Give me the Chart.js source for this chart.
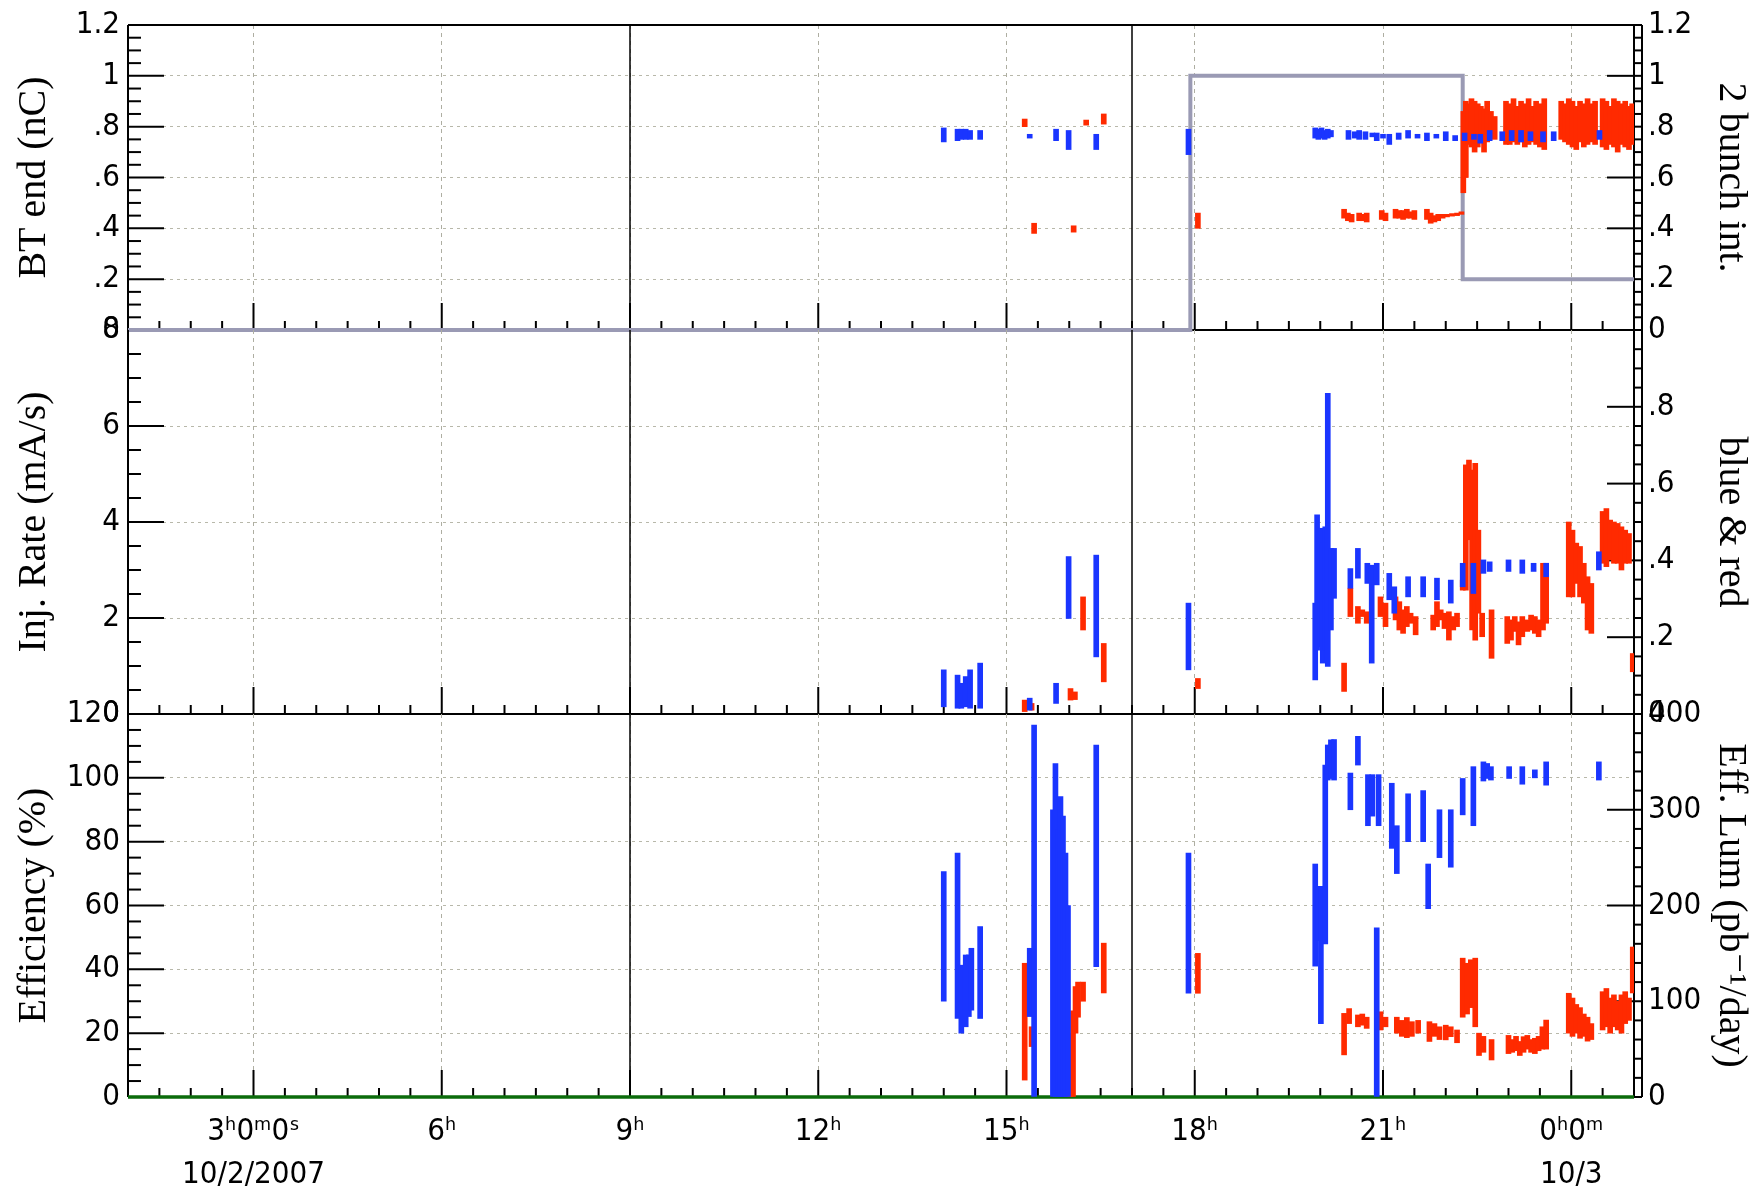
<!DOCTYPE html>
<html>
<head>
<meta charset="utf-8">
<title>Injection summary 10/2/2007</title>
<script src="https://cdn.jsdelivr.net/npm/chart.js@4.4.1/dist/chart.umd.min.js"></script>
<style>
  html, body { margin: 0; padding: 0; background: #fff; overflow: hidden; }
  #wrap { position: relative; width: 1762px; height: 1192px; }
  #wrap canvas { position: absolute; left: 0; top: 0; }
</style>
</head>
<body>
<div id="wrap">
  <canvas id="bunchChart" width="1762" height="1192"></canvas>
  <canvas id="rateChart" width="1762" height="1192"></canvas>
  <canvas id="effChart" width="1762" height="1192"></canvas>
</div>
<script>
// time is in hours since 10/2/2007 00:00
const hourTicks = [3, 6, 9, 12, 15, 18, 21, 24];
const hourTickLabels = [['3ʰ0ᵐ0ˢ', '10/2/2007'], '6ʰ', '9ʰ', '12ʰ', '15ʰ', '18ʰ', '21ʰ', ['0ʰ0ᵐ', '10/3']];
const shiftTimes = [9, 17];

const bunchTicks = [0, 0.2, 0.4, 0.6, 0.8, 1, 1.2];
const bunchTickLabels = ['0', '.2', '.4', '.6', '.8', '1', '1.2'];
const rateTicks = [0, 2, 4, 6, 8];
const rateTickLabels = ['0', '2', '4', '6', '8'];
const rateRightTicks = [0, 0.2, 0.4, 0.6, 0.8];
const rateRightLabels = ['0', '.2', '.4', '.6', '.8'];
const effTicks = [0, 20, 40, 60, 80, 100, 120];
const effTickLabels = ['0', '20', '40', '60', '80', '100', '120'];
const lumTicks = [0, 100, 200, 300, 400];
const lumTickLabels = ['0', '100', '200', '300', '400'];

// [time, low, high] segments
const bunchBlue = [
  [14.00,0.740,0.795],[14.22,0.745,0.790],[14.28,0.750,0.790],[14.35,0.750,0.790],[14.42,0.750,0.785],[14.58,0.750,0.785],
  [15.37,0.755,0.770],[15.79,0.745,0.790],[15.99,0.710,0.785],[16.43,0.710,0.770],[17.90,0.690,0.790],
  [19.92,0.755,0.795],[19.97,0.750,0.790],[20.02,0.755,0.795],[20.07,0.750,0.785],[20.12,0.755,0.790],[20.17,0.760,0.785],
  [20.45,0.750,0.785],[20.55,0.755,0.780],[20.62,0.750,0.785],[20.72,0.750,0.780],[20.83,0.760,0.775],[20.90,0.745,0.775],
  [21.00,0.755,0.770],[21.10,0.730,0.770],[21.25,0.750,0.775],[21.40,0.755,0.785],[21.55,0.755,0.770],[21.70,0.745,0.775],
  [21.85,0.755,0.770],[22.00,0.745,0.780],[22.15,0.745,0.765],[22.30,0.745,0.775],[22.45,0.750,0.770],[22.55,0.735,0.770],
  [22.70,0.745,0.785],[22.90,0.745,0.780],[23.05,0.745,0.785],[23.20,0.740,0.785],[23.35,0.745,0.780],[23.55,0.740,0.780],
  [23.72,0.745,0.780],[24.45,0.750,0.785]
];
const bunchRed = [
  [15.29,0.800,0.830],[15.44,0.380,0.420],[16.07,0.385,0.410],[16.27,0.806,0.826],[16.55,0.810,0.850],[18.05,0.400,0.460],
  [20.38,0.440,0.475],[20.44,0.430,0.460],[20.50,0.425,0.455],[20.62,0.430,0.460],[20.68,0.430,0.455],[20.74,0.425,0.460],
  [20.98,0.435,0.470],[21.04,0.430,0.460],[21.20,0.440,0.475],[21.26,0.440,0.470],[21.32,0.435,0.470],[21.38,0.440,0.475],
  [21.44,0.440,0.465],[21.50,0.435,0.470],[21.70,0.435,0.475],[21.76,0.420,0.460],[21.82,0.425,0.450],[21.88,0.430,0.455],
  [21.95,0.440,0.455],[22.02,0.445,0.455],[22.10,0.448,0.458],[22.18,0.450,0.460],[22.25,0.455,0.465],
  [22.28,0.540,0.860],[22.32,0.600,0.900],[22.36,0.730,0.890],[22.41,0.720,0.910],[22.46,0.700,0.900],[22.51,0.720,0.890],
  [22.56,0.740,0.880],[22.61,0.700,0.870],[22.66,0.740,0.900],[22.72,0.760,0.860],[22.78,0.750,0.840],
  [22.96,0.730,0.900],[23.02,0.730,0.890],[23.08,0.740,0.910],[23.14,0.730,0.880],[23.20,0.740,0.900],[23.26,0.720,0.890],
  [23.32,0.730,0.910],[23.38,0.740,0.880],[23.44,0.730,0.900],[23.50,0.720,0.890],[23.57,0.710,0.910],
  [23.84,0.750,0.900],[23.90,0.740,0.890],[23.96,0.730,0.910],[24.02,0.720,0.900],[24.08,0.710,0.880],[24.14,0.740,0.900],
  [24.20,0.720,0.890],[24.26,0.730,0.910],[24.32,0.740,0.890],[24.38,0.730,0.900],[24.50,0.720,0.910],[24.56,0.710,0.900],
  [24.62,0.730,0.880],[24.68,0.720,0.910],[24.74,0.700,0.900],[24.80,0.730,0.890],[24.86,0.720,0.900],[24.92,0.710,0.880],
  [24.97,0.730,0.890]
];
const bunchStepT = [1, 17.93, 22.27, 25];
const bunchStepV = [0, 1, 0.2, 0.2];

const rateBlue = [
  [14.00,0.15,0.92],[14.22,0.12,0.81],[14.28,0.12,0.64],[14.35,0.15,0.78],[14.42,0.12,0.92],[14.58,0.12,1.06],
  [15.37,0.08,0.33],[15.79,0.22,0.64],[15.99,1.99,3.28],[16.43,1.19,3.31],[17.90,0.92,2.31],
  [19.92,0.71,2.31],[19.95,1.33,4.15],[20.00,1.40,3.87],[20.04,1.06,3.56],[20.08,1.33,3.90],[20.12,0.99,6.68],
  [20.17,1.75,3.45],[20.22,2.41,3.45],[20.48,2.62,3.03],[20.60,2.83,3.45],[20.75,2.72,3.14],[20.82,1.06,3.10],
  [20.90,2.69,3.14],[21.10,2.38,2.93],[21.18,2.10,2.65],[21.40,2.44,2.86],[21.64,2.44,2.86],[21.86,2.38,2.83],
  [22.08,2.31,2.79],[22.27,2.65,3.14],[22.44,2.51,3.14],[22.60,2.93,3.21],[22.70,2.97,3.17],[23.00,2.97,3.21],
  [23.22,2.93,3.21],[23.40,2.97,3.14],[23.60,2.86,3.14],[24.44,3.00,3.38]
];
const rateRed = [
  [15.29,0.05,0.29],[15.40,0.08,0.22],[16.02,0.29,0.53],[16.09,0.30,0.46],[16.22,1.75,2.44],[16.55,0.67,1.47],
  [18.05,0.53,0.74],[20.38,0.47,1.06],[20.48,2.03,2.62],[20.60,1.89,2.24],[20.67,2.03,2.17],[20.74,1.89,2.13],
  [20.96,2.03,2.44],[21.04,1.82,2.31],[21.20,1.96,2.44],[21.26,1.75,2.34],[21.32,1.68,2.17],[21.38,1.82,2.24],
  [21.44,1.89,2.10],[21.52,1.65,2.03],[21.80,1.75,2.06],[21.86,1.82,2.34],[21.92,1.96,2.17],[21.98,1.78,2.10],
  [22.05,1.54,2.13],[22.12,1.75,2.03],[22.18,1.82,2.10],[22.27,2.58,2.79],[22.32,2.58,5.19],[22.37,3.63,5.29],
  [22.42,1.75,5.08],[22.47,1.54,5.22],[22.52,2.10,3.83],[22.58,1.61,2.10],[22.73,1.16,2.17],[22.98,1.47,2.03],
  [23.04,1.54,1.96],[23.10,1.72,2.03],[23.16,1.44,1.92],[23.22,1.61,2.03],[23.30,1.72,1.96],[23.36,1.75,2.06],
  [23.42,1.68,2.03],[23.48,1.61,1.96],[23.55,1.75,3.14],[23.60,1.89,3.14],[23.96,2.44,4.00],[24.02,2.44,3.83],
  [24.08,2.72,3.56],[24.14,2.44,3.49],[24.20,2.31,3.14],[24.26,1.75,2.86],[24.32,1.68,2.72],[24.50,3.14,4.22],
  [24.56,3.07,4.28],[24.62,3.21,4.04],[24.68,3.14,4.00],[24.74,3.14,3.97],[24.80,3.00,3.90],[24.86,3.14,3.83],
  [24.92,3.14,3.76],[24.98,0.88,1.26]
];

const effBlue = [
  [14.00,30.0,70.6],[14.22,24.6,76.4],[14.28,20.0,41.3],[14.35,22.0,44.5],[14.40,25.2,44.5],[14.44,27.2,46.6],
  [14.58,24.6,53.4],[15.37,25.2,46.6],[15.44,0.0,116.5],[15.74,0.0,90.0],[15.78,0.0,104.5],[15.82,0.0,83.7],
  [15.86,0.0,94.1],[15.90,0.0,88.0],[15.94,0.0,76.4],[15.98,0.0,60.0],[16.43,40.8,110.3],[17.90,32.5,76.4],
  [19.92,41.0,73.0],[19.97,49.0,66.0],
  [20.01,23.0,66.0],[20.08,48.0,104.0],[20.12,99.3,110.3],[20.17,99.8,111.9],[20.22,99.3,112.0],[20.48,90.0,101.5],
  [20.60,104.0,113.0],[20.76,85.0,101.0],[20.83,88.0,101.0],[20.90,0.0,53.0],[20.93,85.0,101.0],[21.14,77.9,98.3],
  [21.22,70.0,85.0],[21.40,80.0,95.0],[21.64,80.0,96.0],[21.72,59.0,73.0],[21.90,75.0,90.0],[22.08,72.0,90.0],
  [22.27,88.4,99.8],[22.44,85.0,103.5],[22.60,99.0,105.0],[22.66,99.8,104.5],[22.72,99.3,103.5],[23.01,99.8,103.5],
  [23.22,98.0,103.5],[23.42,100.0,102.5],[23.60,97.7,105.0],[24.44,99.3,105.0]
];
const effRed = [
  [15.29,5.3,41.9],[15.40,15.8,22.0],[15.96,0.0,22.0],[16.02,0.0,20.0],[16.06,0.0,27.0],[16.10,20.0,34.6],
  [16.14,25.0,36.0],[16.22,30.0,36.0],[16.55,32.6,48.2],[18.05,32.5,45.0],[20.38,13.2,26.2],[20.46,23.0,27.7],
  [20.60,22.0,25.7],[20.67,22.5,26.0],[20.74,21.5,25.0],[20.96,21.0,26.7],[21.04,22.0,25.0],[21.22,20.0,25.0],
  [21.30,19.0,24.0],[21.38,18.6,24.9],[21.46,19.0,23.6],[21.56,20.0,24.0],[21.74,17.4,23.6],[21.82,19.0,23.0],
  [21.90,18.0,22.0],[22.00,17.9,22.5],[22.08,18.9,22.0],[22.18,17.0,21.0],[22.27,25.0,43.5],[22.34,26.0,41.9],
  [22.40,28.0,43.0],[22.47,22.0,43.5],[22.53,13.0,20.0],[22.60,14.0,19.0],[22.73,11.6,18.0],[23.00,13.6,19.3],
  [23.06,14.0,18.0],[23.12,14.5,19.0],[23.18,13.0,17.4],[23.24,14.0,18.9],[23.30,15.0,19.3],[23.36,14.0,18.0],
  [23.42,13.6,18.4],[23.48,14.5,19.0],[23.54,15.0,22.0],[23.60,15.0,24.1],[23.96,20.0,32.5],[24.02,19.0,31.0],
  [24.08,20.0,29.0],[24.14,18.4,28.0],[24.20,19.0,26.0],[24.26,17.5,25.0],[24.32,18.0,23.0],[24.50,21.0,33.0],
  [24.56,22.0,34.0],[24.62,20.0,31.0],[24.68,22.0,32.0],[24.74,21.0,30.0],[24.80,20.0,32.0],[24.86,23.0,33.0],
  [24.92,24.0,31.0],[24.98,32.6,47.0]
];
const effZeroT = [1, 25];
const effZeroV = [0, 0];

const BLUE = '#1a35ff';
const RED = '#ff2a00';
const TICK_FONT = {family: '"Liberation Sans Narrow", "DejaVu Sans Condensed", "Liberation Sans", sans-serif', size: 31, lineHeight: 1.38};
const TITLE_FONT = {family: '"Liberation Serif", "DejaVu Serif", serif', size: 40, lineHeight: 1.2};

function segments(rows, color, axis) {
  return {
    type: 'bar',
    data: rows.map(r => ({x: r[0], y: [r[1], r[2]]})),
    backgroundColor: color,
    borderWidth: 0,
    barThickness: 5,
    grouped: false,
    yAxisID: axis
  };
}

function series(ts, vs, color, width, axis, stepped) {
  return {
    type: 'line',
    data: ts.map((t, i) => ({x: t, y: vs[i]})),
    borderColor: color,
    borderWidth: width,
    pointRadius: 0,
    stepped: stepped,
    tension: 0,
    clip: false,
    yAxisID: axis
  };
}

// ROOT style frame: inward ticks, ladder on the right axis, shift-change lines
const rootFrame = {
  id: 'rootFrame',
  beforeDatasetsDraw(chart, args, opts) {
    const {ctx, chartArea: a} = chart;
    const sx = chart.scales.x, yl = chart.scales.y, yr = chart.scales.y2;
    const seg = (x1, y1, x2, y2) => { ctx.beginPath(); ctx.moveTo(x1, y1); ctx.lineTo(x2, y2); ctx.stroke(); };
    const isMajor = (scale, v) => scale.ticks.some(t => Math.abs(t.value - v) < 1e-6);
    ctx.save();
    ctx.strokeStyle = '#000';
    ctx.lineWidth = 1.5;
    shiftTimes.forEach(t => {
      const p = sx.getPixelForValue(t);
      seg(p, a.top, p, a.bottom);
    });
    ctx.lineWidth = 2;
    const nx = Math.round((sx.max - sx.min) / 0.5);
    for (let i = 1; i < nx; i++) {
      const t = sx.min + i * 0.5;
      const p = sx.getPixelForValue(t);
      seg(p, a.bottom, p, a.bottom - (t % 3 === 0 ? 27 : 9));
    }
    const nl = Math.round((yl.max - yl.min) / opts.leftMinor);
    for (let i = 0; i < nl; i++) {
      const v = yl.min + i * opts.leftMinor;
      const p = yl.getPixelForValue(v);
      seg(a.left, p, a.left + (isMajor(yl, v) ? 36 : 13), p);
    }
    const nr = Math.round((yr.max - yr.min) / opts.rightMinor);
    for (let i = 0; i <= nr; i++) {
      const v = yr.min + i * opts.rightMinor;
      const p = yr.getPixelForValue(v);
      if (p < a.top - 0.5 || p > a.bottom + 0.5) continue;
      seg(a.right, p, a.right + 8, p);
      if (isMajor(yr, v)) seg(a.right - 27, p, a.right, p);
    }
    seg(a.right + 8, a.top, a.right + 8, a.bottom);
    // frame; the top edge of lower panels is the bottom edge of the one above
    seg(a.left, a.top, a.left, a.bottom);
    seg(a.right, a.top, a.right, a.bottom);
    seg(a.left, a.bottom, a.right, a.bottom);
    if (opts.topEdge) seg(a.left, a.top, a.right, a.top);
    ctx.restore();
  }
};

function sideAxis(position, min, max, ticks, labels, title, withGrid) {
  const last = ticks.length - 1;
  return {
    type: 'linear',
    position: position,
    min: min,
    max: max,
    afterBuildTicks: s => { s.ticks = ticks.map(v => ({value: v})); },
    afterFit: s => { s.width = 128; s.paddingTop = 0; s.paddingBottom = 0; },
    grid: {
      display: withGrid, lineWidth: 1, drawTicks: false,
      color: c => (c.index === 0 || c.index === last) ? 'rgba(0,0,0,0)' : '#b8b8aa'
    },
    border: {display: false, dash: [3, 4]},
    ticks: {
      color: '#000', font: TICK_FONT, autoSkip: false,
      padding: position === 'left' ? 8 : 14,
      callback: (v, i) => labels[i]
    },
    title: {
      display: true, text: title, color: '#000', font: TITLE_FONT,
      padding: {top: position === 'left' ? 10 : 8, bottom: 0}
    }
  };
}

function panel(canvasId, p) {
  const xHeight = p.timeLabels ? 1192 - p.bottom : 0;
  return new Chart(document.getElementById(canvasId), {
    type: 'bar',
    data: {datasets: p.datasets},
    options: {
      responsive: false,
      animation: false,
      events: [],
      layout: {padding: {top: p.top, bottom: 1192 - p.bottom - xHeight, left: 0, right: 0}},
      plugins: {
        legend: {display: false},
        tooltip: {enabled: false},
        rootFrame: {leftMinor: p.leftMinor, rightMinor: p.rightMinor, topEdge: !!p.topEdge}
      },
      scales: {
        x: {
          type: 'linear', min: 1, max: 25, offset: false,
          afterBuildTicks: s => { s.ticks = hourTicks.map(v => ({value: v})); },
          afterFit: s => { s.height = xHeight; s.paddingLeft = 0; s.paddingRight = 0; },
          grid: {color: '#aeaea2', lineWidth: 1, drawTicks: false, offset: false},
          border: {display: false, dash: [4, 4]},
          ticks: {
            display: !!p.timeLabels, color: '#000', font: TICK_FONT,
            padding: 14, maxRotation: 0, autoSkip: false,
            callback: (v, i) => hourTickLabels[i]
          }
        },
        y: p.left,
        y2: p.right
      }
    },
    plugins: [rootFrame]
  });
}

panel('bunchChart', {
  top: 25, bottom: 330, leftMinor: 0.05, rightMinor: 0.05, topEdge: true,
  left: sideAxis('left', 0, 1.2, bunchTicks, bunchTickLabels, 'BT end (nC)', true),
  right: sideAxis('right', 0, 1.2, bunchTicks, bunchTickLabels, '2 bunch int.', false),
  datasets: [
    segments(bunchBlue, BLUE, 'y'),
    segments(bunchRed, RED, 'y'),
    series(bunchStepT, bunchStepV, '#9a9ab4', 4, 'y2', 'before')
  ]
});

panel('rateChart', {
  top: 330, bottom: 714, leftMinor: 0.5, rightMinor: 0.05,
  left: sideAxis('left', 0, 8, rateTicks, rateTickLabels, 'Inj. Rate (mA/s)', true),
  right: sideAxis('right', 0, 1, rateRightTicks, rateRightLabels, 'blue & red', false),
  datasets: [
    segments(rateBlue, BLUE, 'y'),
    segments(rateRed, RED, 'y')
  ]
});

panel('effChart', {
  top: 714, bottom: 1097, leftMinor: 5, rightMinor: 20, timeLabels: true,
  left: sideAxis('left', 0, 120, effTicks, effTickLabels, 'Efficiency (%)', true),
  right: sideAxis('right', 0, 400, lumTicks, lumTickLabels, 'Eff. Lum (pb⁻¹/day)', false),
  datasets: [
    segments(effBlue, BLUE, 'y'),
    segments(effRed, RED, 'y'),
    series(effZeroT, effZeroV, '#0b6b0b', 3.5, 'y', false)
  ]
});
</script>
</body>
</html>
